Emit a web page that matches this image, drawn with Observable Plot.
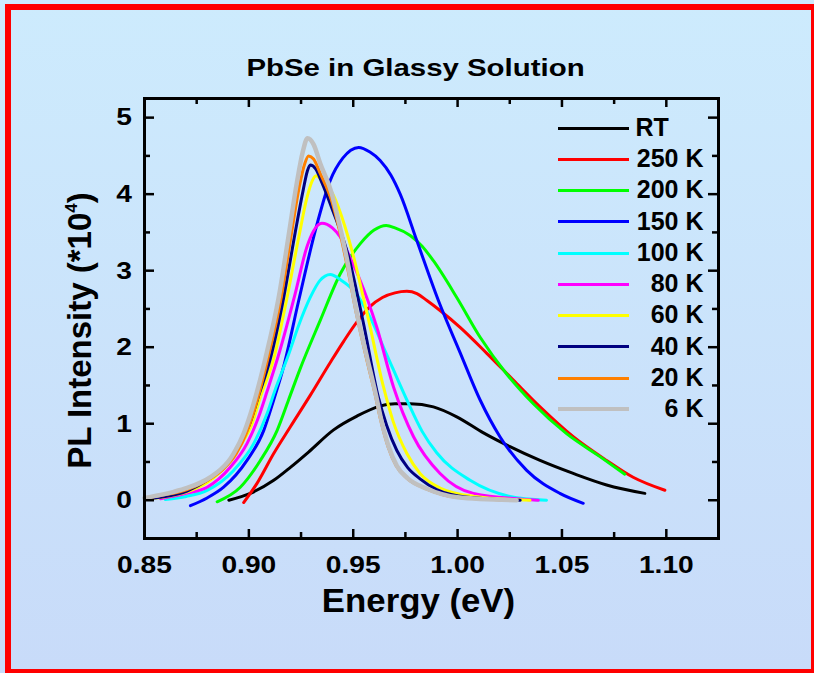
<!DOCTYPE html>
<html><head><meta charset="utf-8">
<script src="https://cdn.jsdelivr.net/npm/d3@7"></script>
<script src="https://cdn.jsdelivr.net/npm/@observablehq/plot@0.6"></script>
<style>
html,body{margin:0;padding:0;}
body{width:814px;height:673px;overflow:hidden;background:linear-gradient(#cdebfd,#c8dbf9);font-family:"Liberation Sans",Arial,sans-serif;font-weight:bold;color:#000;}
#wrap{position:relative;width:814px;height:673px;}
#border{position:absolute;left:5px;top:4px;width:812px;height:671px;box-sizing:border-box;border:6px solid #ff0000;}
#chart{position:absolute;left:0;top:0;}
.lbl{position:absolute;white-space:pre;text-align:center;}
#legend .sw{position:absolute;left:558px;width:71px;}
#legend .lt{position:absolute;left:580px;width:123.5px;text-align:right;font-size:25px;line-height:25px;white-space:pre;}
</style></head>
<body><div id="wrap"><div id="border"></div><div id="chart"></div>
<div class="lbl" id="title" style="left:0;width:831px;top:56px;font-size:24.5px;line-height:24.5px;transform:scaleX(1.2);">PbSe in Glassy Solution</div>
<div class="lbl" id="xlabel" style="left:0;width:837px;top:584.5px;font-size:32.5px;line-height:32.5px;transform:scaleX(1.07);">Energy (eV)</div>
<div class="lbl" id="ylabel" style="left:-168.4px;width:500px;top:310.5px;font-size:33px;line-height:33px;transform:rotate(-90deg);">PL Intensity (*10<span style="font-size:17px;position:relative;top:-14px;">4</span>)</div>
<div id="legend"></div>
</div>
<script>
// ---- data (Energy eV, PL intensity x10^4) ----
const seriesNames = ["RT","250 K","200 K","150 K","100 K","80 K","60 K","40 K","20 K","6 K"];
const legendLabels = ["RT     ","250 K","200 K","150 K","100 K","80 K","60 K","40 K","20 K","6 K"];
const seriesColors = ["#000000","#ff0000","#00ff00","#0000ff","#00ffff","#ff00ff","#ffff00","#000080","#ff8000","#c0c0c0"];

const rt = [[0.8904,0.00],[0.9007,0.09],[0.9119,0.26],[0.9199,0.43],[0.9286,0.63],[0.9406,0.92],[0.9518,1.10],[0.9629,1.23],[0.9700,1.26],[0.9773,1.26],[0.9884,1.22],[0.9996,1.09],[1.0124,0.88],[1.0251,0.70],[1.0395,0.52],[1.0554,0.35],[1.0714,0.20],[1.0897,0.09]];
const k250 = [[0.8975,-0.03],[0.9039,0.22],[0.9119,0.61],[0.9199,0.96],[0.9294,1.37],[0.9390,1.80],[0.9455,2.08],[0.9518,2.33],[0.9580,2.53],[0.9640,2.65],[0.9700,2.71],[0.9757,2.73],[0.9805,2.70],[0.9853,2.61],[0.9916,2.48],[1.0012,2.26],[1.0140,1.92],[1.0267,1.57],[1.0395,1.22],[1.0554,0.83],[1.0714,0.52],[1.0841,0.30],[1.0993,0.13]];
const k200 = [[0.8848,-0.02],[0.8959,0.17],[0.9055,0.52],[0.9135,0.91],[0.9190,1.31],[0.9246,1.72],[0.9342,2.35],[0.9438,2.96],[0.9533,3.35],[0.9600,3.53],[0.9658,3.59],[0.9700,3.56],[0.9773,3.46],[0.9830,3.32],[0.9884,3.13],[0.9996,2.65],[1.0108,2.13],[1.0235,1.65],[1.0363,1.26],[1.0522,0.87],[1.0682,0.57],[1.0801,0.34]];
const k150 = [[0.8720,-0.07],[0.8800,0.03],[0.8879,0.17],[0.8991,0.52],[0.9071,0.91],[0.9119,1.31],[0.9167,1.75],[0.9238,2.60],[0.9318,3.52],[0.9390,4.18],[0.9450,4.47],[0.9526,4.61],[0.9580,4.55],[0.9629,4.44],[0.9680,4.25],[0.9725,4.00],[0.9805,3.39],[0.9908,2.61],[1.0012,1.93],[1.0108,1.31],[1.0203,0.83],[1.0331,0.39],[1.0490,0.09],[1.0602,-0.04]];
const k100 = [[0.8600,0.01],[0.8700,0.05],[0.8800,0.13],[0.8927,0.39],[0.9023,0.74],[0.9087,1.13],[0.9127,1.45],[0.9190,1.90],[0.9238,2.28],[0.9294,2.65],[0.9340,2.87],[0.9390,2.95],[0.9440,2.88],[0.9502,2.74],[0.9581,2.39],[0.9653,1.95],[0.9757,1.31],[0.9830,0.90],[0.9900,0.62],[1.0060,0.26],[1.0251,0.05],[1.0426,0.00]];
const k80 = [[0.8577,0.02],[0.8700,0.09],[0.8800,0.17],[0.8911,0.43],[0.8991,0.74],[0.9047,1.09],[0.9087,1.42],[0.9148,1.95],[0.9222,2.70],[0.9278,3.31],[0.9310,3.52],[0.9350,3.62],[0.9400,3.56],[0.9438,3.44],[0.9480,3.20],[0.9526,2.92],[0.9613,2.26],[0.9693,1.48],[0.9789,0.83],[0.9916,0.35],[1.0076,0.09],[1.0387,0.00]];
const k60 = [[0.8520,0.02],[0.8704,0.11],[0.8800,0.23],[0.8905,0.50],[0.8960,0.72],[0.9015,1.00],[0.9055,1.35],[0.9119,1.85],[0.9183,2.65],[0.9240,3.45],[0.9278,3.95],[0.9303,4.17],[0.9323,4.24],[0.9350,4.18],[0.9406,3.98],[0.9460,3.58],[0.9502,3.18],[0.9540,2.75],[0.9574,2.35],[0.9645,1.48],[0.9690,1.04],[0.9757,0.61],[0.9820,0.35],[0.9916,0.16],[1.0080,0.05],[1.0347,0.00]];
const k40 = [[0.8510,0.02],[0.8577,0.04],[0.8704,0.12],[0.8800,0.26],[0.8896,0.48],[0.8959,0.74],[0.9007,1.02],[0.9045,1.35],[0.9103,1.85],[0.9167,2.65],[0.9222,3.50],[0.9260,4.05],[0.9280,4.30],[0.9294,4.38],[0.9320,4.33],[0.9350,4.15],[0.9400,3.80],[0.9478,3.18],[0.9550,2.30],[0.9620,1.35],[0.9660,0.98],[0.9709,0.65],[0.9760,0.43],[0.9820,0.28],[0.9900,0.14],[1.0050,0.04],[1.0300,0.00]];
const k20 = [[0.8500,0.02],[0.8577,0.06],[0.8704,0.14],[0.8820,0.29],[0.8875,0.40],[0.8940,0.61],[0.8987,0.87],[0.9019,1.12],[0.9052,1.43],[0.9091,1.85],[0.9155,2.65],[0.9202,3.45],[0.9242,4.10],[0.9268,4.40],[0.9286,4.50],[0.9310,4.46],[0.9342,4.27],[0.9398,3.90],[0.9422,3.66],[0.9468,3.10],[0.9515,2.44],[0.9562,1.87],[0.9602,1.42],[0.9634,1.02],[0.9667,0.70],[0.9706,0.45],[0.9757,0.29],[0.9850,0.15],[0.9997,0.04],[1.0280,0.00]];
const k6 = [[0.8500,0.03],[0.8577,0.07],[0.8640,0.11],[0.8704,0.16],[0.8768,0.23],[0.8820,0.31],[0.8864,0.40],[0.8900,0.50],[0.8927,0.61],[0.8975,0.87],[0.9007,1.12],[0.9040,1.43],[0.9079,1.85],[0.9143,2.65],[0.9190,3.45],[0.9230,4.15],[0.9258,4.55],[0.9281,4.73],[0.9310,4.65],[0.9342,4.40],[0.9398,4.00],[0.9422,3.74],[0.9470,3.15],[0.9518,2.44],[0.9566,1.87],[0.9605,1.42],[0.9637,1.02],[0.9670,0.70],[0.9709,0.45],[0.9760,0.29],[0.9853,0.15],[1.0000,0.04],[1.0283,0.00]];
const seriesData = [rt,k250,k200,k150,k100,k80,k60,k40,k20,k6];

const xDomain = [0.85, 1.125];
const yDomain = [-0.5, 5.25];
const xMajor = [0.85,0.90,0.95,1.00,1.05,1.10];
const xMinor = [0.875,0.925,0.975,1.025,1.075];
const yMajor = [0,1,2,3,4,5];
const yMinor = [0.5,1.5,2.5,3.5,4.5];

// ---- layout ----
const W = 814, H = 673, mL = 144, mR = 96, mT = 98, mB = 135;
const innerW = W - mL - mR, innerH = H - mT - mB;
const widthOf = i => (i === 9 ? 4.5 : 3);

const marks = [];
seriesData.forEach((s, i) => {
  marks.push(Plot.line(s, {x: d => d[0], y: d => d[1], stroke: seriesColors[i], strokeWidth: widthOf(i), curve: "monotone-x", strokeLinejoin: "round", strokeLinecap: "round"}));
});
const tk = {stroke: "black", strokeWidth: 2.5};
marks.push(
  Plot.ruleX(xMajor, {x: d => d, insetTop: innerH - 9, ...tk}),
  Plot.ruleX(xMajor, {x: d => d, insetBottom: innerH - 9, ...tk}),
  Plot.ruleX(xMinor, {x: d => d, insetTop: innerH - 6, ...tk}),
  Plot.ruleX(xMinor, {x: d => d, insetBottom: innerH - 6, ...tk}),
  Plot.ruleY(yMajor, {y: d => d, insetRight: innerW - 10, ...tk}),
  Plot.ruleY(yMajor, {y: d => d, insetLeft: innerW - 10, ...tk}),
  Plot.ruleY(yMinor, {y: d => d, insetRight: innerW - 6, ...tk}),
  Plot.ruleY(yMinor, {y: d => d, insetLeft: innerW - 6, ...tk}),
  Plot.frame({stroke: "black", strokeWidth: 3}),
  Plot.axisX(xMajor, {tickSize: 0, tickPadding: 17, tickFormat: d3.format(".2f"), fontSize: 24.5, fontWeight: "bold", label: null}),
  Plot.axisY(yMajor, {tickSize: 0, tickPadding: 12.5, tickFormat: d3.format("d"), fontSize: 24.5, fontWeight: "bold", label: null})
);

const svg = Plot.plot({
  width: W, height: H,
  marginLeft: mL, marginRight: mR, marginTop: mT, marginBottom: mB,
  x: {domain: xDomain},
  y: {domain: yDomain},
  style: {background: "none", fontFamily: "'Liberation Sans', Arial, sans-serif", color: "black", overflow: "visible"},
  marks
});
document.getElementById("chart").appendChild(svg);

// widen tick labels horizontally like the reference typeface
d3.select(svg).selectAll('g[aria-label="x-axis tick label"] text, g[aria-label="y-axis tick label"] text')
  .each(function() {
    const t = this.getAttribute("transform") || "";
    this.setAttribute("transform", t + " scale(1.15,1)");
  });

// ---- legend ----
const legend = document.getElementById("legend");
const rowY0 = 128.3, rowStep = 31.22;
seriesNames.forEach((name, i) => {
  const y = rowY0 + i * rowStep;
  const sw = document.createElement("div");
  sw.className = "sw";
  const h = i === 9 ? 4 : 3;
  sw.style.top = (y - h / 2) + "px";
  sw.style.height = h + "px";
  sw.style.background = seriesColors[i];
  legend.appendChild(sw);
  const lt = document.createElement("div");
  lt.className = "lt";
  lt.style.top = (y - 13.3) + "px";
  lt.textContent = legendLabels[i];
  legend.appendChild(lt);
});
</script>
</body></html>
